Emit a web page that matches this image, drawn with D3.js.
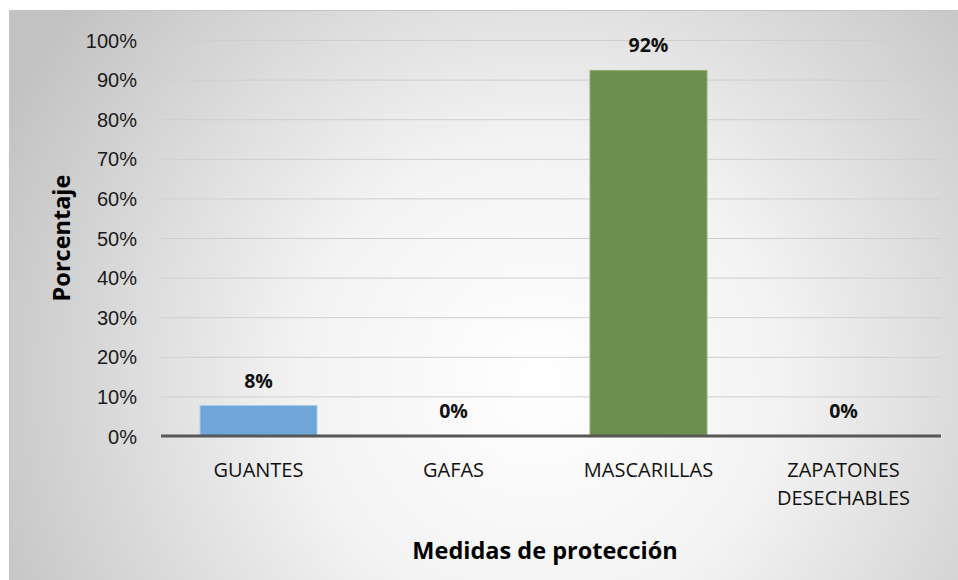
<!DOCTYPE html>
<html><head><meta charset="utf-8">
<script src="https://cdn.jsdelivr.net/npm/d3@7"></script>
<style>
body{margin:0;background:#fff;}
svg{display:block;font-family:"Open Sans","Noto Sans",sans-serif;}
</style></head>
<body>
<svg id="c" width="958" height="580"></svg>
<script>
const categories = [["GUANTES"], ["GAFAS"], ["MASCARILLAS"], ["ZAPATONES", "DESECHABLES"]];
const valuesAll = [7.69, 0, 92.31, 0];
const valueLabels = ["8%", "0%", "92%", "0%"];
const barColors = ["#6fa6d9", "#6fa6d9", "#6a8f4e", "#6a8f4e"];
const yTicks = [0, 10, 20, 30, 40, 50, 60, 70, 80, 90, 100];
const yTitle = "Porcentaje";
const xTitle = "Medidas de protección";

const svg = d3.select("#c");
const defs = svg.append("defs");
const grad = defs.append("radialGradient").attr("id", "bg")
  .attr("gradientUnits", "userSpaceOnUse")
  .attr("cx", 540).attr("cy", 380).attr("r", 600);
grad.append("stop").attr("offset", "0").attr("stop-color", "#ffffff");
grad.append("stop").attr("offset", "0.4").attr("stop-color", "#f3f3f3");
grad.append("stop").attr("offset", "1").attr("stop-color", "#c2c2c2");

svg.append("rect").attr("x", 9.5).attr("y", 10.5).attr("width", 960).attr("height", 580)
  .attr("fill", "url(#bg)").attr("stroke", "#c4c4c4").attr("stroke-width", 1);

const m = {left: 161, right: 941, top: 40, bottom: 436};
const x = d3.scaleBand().domain(d3.range(categories.length)).range([m.left, m.right]).paddingInner(0.4).paddingOuter(0.2);
const y = d3.scaleLinear().domain([0, 100]).range([m.bottom, m.top]);

// gridlines
svg.append("g").selectAll("line").data(yTicks.filter(d => d > 0)).join("line")
  .attr("x1", m.left).attr("x2", m.right)
  .attr("y1", d => y(d) + 0.5).attr("y2", d => y(d) + 0.5)
  .attr("stroke", "#cfcfcf").attr("stroke-width", 1);

// y axis labels
const yAxis = d3.axisLeft(y).tickValues(yTicks).tickFormat(d => d + "%").tickSize(0).tickPadding(0);
const ya = svg.append("g").attr("transform", `translate(${137},0)`).call(yAxis);
ya.select(".domain").remove();
ya.selectAll("text").attr("font-size", 20).attr("fill", "#1a1a1a").attr("font-family", "inherit").attr("dy", "0.35em");

// bars
svg.append("g").selectAll("rect").data(valuesAll).join("rect")
  .attr("x", (d, i) => x(i)).attr("width", x.bandwidth())
  .attr("y", d => y(d)).attr("height", d => y(0) - y(d))
  .attr("fill", (d, i) => barColors[i])
  .attr("stroke", (d, i) => i === 2 ? "#8fb077" : "#a9c9ea").attr("stroke-width", 1);

// baseline axis
svg.append("line").attr("x1", m.left).attr("x2", m.right).attr("y1", y(0)).attr("y2", y(0))
  .attr("stroke", "#575757").attr("stroke-width", 3);

// value labels
svg.append("g").selectAll("text").data(valuesAll).join("text")
  .attr("x", (d, i) => x(i) + x.bandwidth() / 2)
  .attr("y", d => y(d) - 18)
  .attr("text-anchor", "middle").attr("font-size", 19.5).attr("font-weight", "bold").attr("fill", "#111")
  .text((d, i) => valueLabels[i]);

// category labels
const cat = svg.append("g").selectAll("text").data(categories).join("text")
  .attr("x", (d, i) => x(i) + x.bandwidth() / 2)
  .attr("y", 477)
  .attr("text-anchor", "middle").attr("font-size", 20).attr("fill", "#111");
cat.selectAll("tspan").data(d => d).join("tspan")
  .attr("x", function() { return d3.select(this.parentNode).attr("x"); })
  .attr("dy", (d, j) => j === 0 ? 0 : 28)
  .text(d => d);

// titles
svg.append("text").attr("transform", `translate(70,238) rotate(-90)`)
  .attr("text-anchor", "middle").attr("font-size", 23.5).attr("font-weight", "bold").attr("fill", "#000")
  .text(yTitle);
svg.append("text").attr("x", 545).attr("y", 559)
  .attr("text-anchor", "middle").attr("font-size", 23.5).attr("font-weight", "bold").attr("fill", "#000")
  .text(xTitle);
</script>
</body></html>
